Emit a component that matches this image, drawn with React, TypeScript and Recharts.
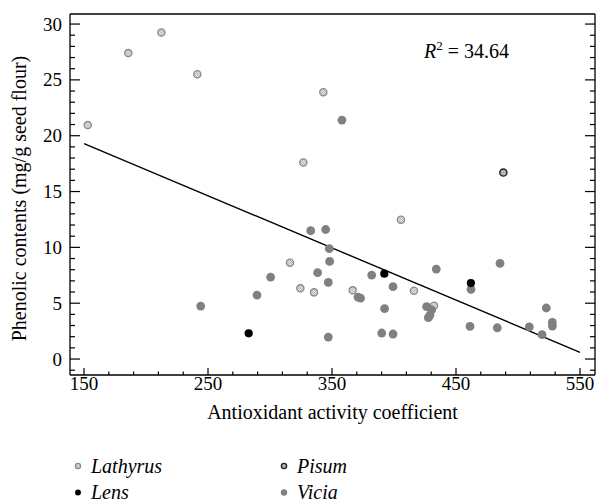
import { ScatterChart, Scatter, XAxis, YAxis, ReferenceLine } from "recharts";

// antioxidant activity coefficient (x) vs phenolic contents (y), per genus
const lathyrusX = [153, 185.7, 212.4, 241.4, 343, 326.9, 405.6, 316.1, 324.5, 335.5, 366.7, 416.1, 432.3];
const lathyrusY = [20.95, 27.4, 29.25, 25.5, 23.9, 17.6, 12.47, 8.62, 6.33, 5.97, 6.15, 6.12, 4.78];

const lensX = [282.8, 392.2, 462];
const lensY = [2.3, 7.64, 6.8];

const pisumX = [488.2];
const pisumY = [16.7];

const viciaX = [
  358, 332.8, 344.9, 347.8, 348.1, 338.4, 300.5, 347, 371, 373, 289.5, 244.1, 347, 382, 399.2, 434.1,
  485.5, 462.1, 392.4, 390.1, 399.2, 426.3, 430.4, 429, 427.7, 461.3, 483.3, 509.1, 519.4, 522.8, 527.7, 527.7,
];
const viciaY = [
  21.4, 11.49, 11.6, 9.88, 8.74, 7.73, 7.34, 6.86, 5.55, 5.45, 5.73, 4.74, 1.97, 7.52, 6.48, 8.06,
  8.56, 6.24, 4.51, 2.33, 2.24, 4.69, 4.39, 3.94, 3.7, 2.93, 2.8, 2.87, 2.18, 4.57, 3.28, 2.95,
];

// fitted line end points
const fitX = [150, 550];
const fitY = [19.3, 0.6];
const rSquared = "34.64";

const xMajorTicks = [150, 250, 350, 450, 550];
const yMajorTicks = [0, 5, 10, 15, 20, 25, 30];
const xDomain = [138.7, 562.1];
const yDomain = [-1.43, 30.9];

const xTicks: number[] = [];
for (let v = 150; v <= 550; v += 20) xTicks.push(v);
const yTicks: number[] = [];
for (let v = -1; v <= 30; v += 1) yTicks.push(v);

const toPoints = (xs: number[], ys: number[]) => xs.map((x, i) => ({ x, y: ys[i] }));

const FONT = '"Liberation Serif", "DejaVu Serif", serif';

type Marker = "lathyrus" | "lens" | "pisum" | "vicia";

function MarkerShape({ kind, cx, cy, small }: { kind: Marker; cx: number; cy: number; small?: boolean }) {
  const k = small ? 0.72 : 1;
  if (kind === "lathyrus")
    return <circle cx={cx} cy={cy} r={3.6 * k} fill="url(#lathHatch)" stroke="#8a8a8a" strokeWidth={1.3} />;
  if (kind === "lens") return <circle cx={cx} cy={cy} r={4.1 * k} fill="#000" />;
  if (kind === "pisum")
    return <circle cx={cx} cy={cy} r={3.6 * k} fill="#b4b4b4" stroke="#222" strokeWidth={1.4} />;
  return <circle cx={cx} cy={cy} r={4.4 * k} fill="#808080" />;
}

const series: { name: string; kind: Marker; xs: number[]; ys: number[] }[] = [
  { name: "Lathyrus", kind: "lathyrus", xs: lathyrusX, ys: lathyrusY },
  { name: "Lens", kind: "lens", xs: lensX, ys: lensY },
  { name: "Pisum", kind: "pisum", xs: pisumX, ys: pisumY },
  { name: "Vicia", kind: "vicia", xs: viciaX, ys: viciaY },
];
// drawing order: vicia over lathyrus, lens over vicia
const drawOrder = ["Lathyrus", "Vicia", "Lens", "Pisum"];

const BottomTick = (p: any) => {
  const v = p.payload.value;
  const major = xMajorTicks.includes(v);
  return (
    <g>
      <line x1={p.x} x2={p.x} y1={p.y} y2={p.y - (major ? 7 : 3.5)} stroke="#000" strokeWidth={1.2} />
      {major && (
        <text x={p.x} y={p.y + 15} textAnchor="middle" fontSize={19} fontFamily={FONT} fill="#000">
          {v}
        </text>
      )}
    </g>
  );
};

const TopTick = (p: any) => {
  const major = xMajorTicks.includes(p.payload.value);
  return <line x1={p.x} x2={p.x} y1={p.y} y2={p.y + (major ? 7 : 3.5)} stroke="#000" strokeWidth={1.2} />;
};

const LeftTick = (p: any) => {
  const v = p.payload.value;
  const major = yMajorTicks.includes(v);
  return (
    <g>
      <line x1={p.x} x2={p.x + (major ? 10 : 5)} y1={p.y} y2={p.y} stroke="#000" strokeWidth={1.2} />
      {major && (
        <text x={p.x - 8} y={p.y + 6.5} textAnchor="end" fontSize={19} fontFamily={FONT} fill="#000">
          {v}
        </text>
      )}
    </g>
  );
};

const RightTick = (p: any) => {
  const major = yMajorTicks.includes(p.payload.value);
  return <line x1={p.x} x2={p.x - (major ? 10 : 5)} y1={p.y} y2={p.y} stroke="#000" strokeWidth={1.2} />;
};

const frame = { stroke: "#000", strokeWidth: 1.3 };

export default function App() {
  const byName = Object.fromEntries(series.map((s) => [s.name, s]));
  return (
    <div style={{ position: "relative", width: 597, height: 499, overflow: "hidden", background: "#fff" }}>
      <style>{`body{margin:0}`}</style>
      <svg width={0} height={0} style={{ position: "absolute" }}>
        <defs>
          <pattern id="lathHatch" width={2} height={2} patternUnits="userSpaceOnUse">
            <rect width={2} height={2} fill="#e4e4e4" />
            <rect width={1} height={1} fill="#b8b8b8" />
            <rect x={1} y={1} width={1} height={1} fill="#b8b8b8" />
          </pattern>
        </defs>
      </svg>
      <ScatterChart width={597} height={440} margin={{ top: 0, right: 0, bottom: 0, left: 0 }}>
        <XAxis
          xAxisId="bottom"
          dataKey="x"
          type="number"
          domain={xDomain}
          allowDataOverflow
          ticks={xTicks}
          interval={0}
          tickSize={0}
          tickMargin={0}
          tick={BottomTick}
          tickLine={false}
          axisLine={frame}
          height={65}
          label={{
            content: ({ viewBox }: any) => (
              <text
                x={viewBox.x + viewBox.width / 2}
                y={viewBox.y + 44}
                textAnchor="middle"
                fontSize={20}
                fontFamily={FONT}
                fill="#000"
              >
                Antioxidant activity coefficient
              </text>
            ),
          }}
        />
        <XAxis
          xAxisId="top"
          orientation="top"
          type="number"
          domain={xDomain}
          allowDataOverflow
          ticks={xTicks}
          interval={0}
          tickSize={0}
          tickMargin={0}
          tick={TopTick}
          tickLine={false}
          axisLine={frame}
          height={14}
        />
        <YAxis
          yAxisId="left"
          dataKey="y"
          type="number"
          domain={yDomain}
          allowDataOverflow
          ticks={yTicks}
          interval={0}
          tickSize={0}
          tickMargin={0}
          tick={LeftTick}
          tickLine={false}
          axisLine={frame}
          width={70}
          label={{
            content: ({ viewBox }: any) => {
              const cx = viewBox.x + 19;
              const cy = viewBox.y + viewBox.height / 2 + 4;
              return (
                <text
                  x={cx}
                  y={cy}
                  transform={`rotate(-90 ${cx} ${cy})`}
                  textAnchor="middle"
                  dominantBaseline="central"
                  fontSize={20}
                  fontFamily={FONT}
                  fill="#000"
                >
                  Phenolic contents (mg/g seed flour)
                </text>
              );
            },
          }}
        />
        <YAxis
          yAxisId="right"
          orientation="right"
          type="number"
          domain={yDomain}
          allowDataOverflow
          ticks={yTicks}
          interval={0}
          tickSize={0}
          tickMargin={0}
          tick={RightTick}
          tickLine={false}
          axisLine={frame}
          width={2}
        />
        {drawOrder.map((n) => {
          const s = byName[n];
          return (
            <Scatter
              key={n}
              name={n}
              xAxisId="bottom"
              yAxisId="left"
              data={toPoints(s.xs, s.ys)}
              isAnimationActive={false}
              shape={(p: any) => <MarkerShape kind={s.kind} cx={p.cx} cy={p.cy} />}
            />
          );
        })}
        <ReferenceLine
          xAxisId="bottom"
          yAxisId="left"
          segment={[
            { x: fitX[0], y: fitY[0] },
            { x: fitX[1], y: fitY[1] },
          ]}
          stroke="#000"
          strokeWidth={1.4}
          ifOverflow="visible"
        />
      </ScatterChart>
      <svg
        width={597}
        height={499}
        style={{ position: "absolute", left: 0, top: 0, pointerEvents: "none" }}
        fontFamily={FONT}
      >
        <text x={424} y={58} fontSize={20} fill="#000">
          <tspan fontStyle="italic">R</tspan>
          <tspan dy={-8} fontSize={13}>
            2
          </tspan>
          <tspan dy={8}> = {rSquared}</tspan>
        </text>
        {series.map((s, i) => {
          const mx = [78, 284][Math.floor(i / 2)];
          const my = [466, 492.5][i % 2];
          return (
            <g key={s.name}>
              <MarkerShape kind={s.kind} cx={mx} cy={my} small />
              <text x={mx + 13} y={my + 6.5} fontSize={20} fontStyle="italic" fill="#000">
                {s.name}
              </text>
            </g>
          );
        })}
      </svg>
    </div>
  );
}
